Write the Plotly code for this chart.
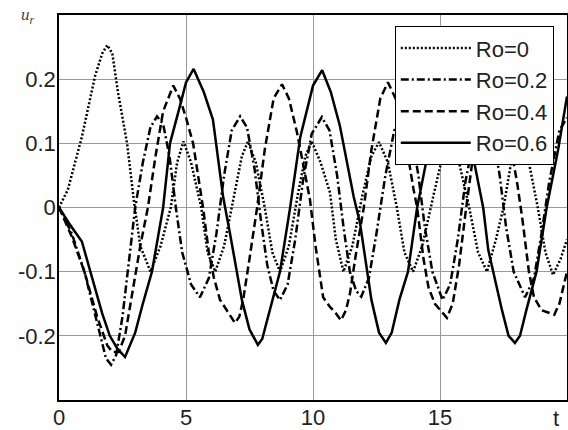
import plotly.graph_objects as go

# ---- data ----
t_ro0 = [0, 0.35, 0.9, 1.42, 1.7, 1.9, 2.1, 2.32, 2.68, 2.95, 3.2, 3.6, 4.0, 4.4, 4.65, 4.9, 5.2, 5.6, 5.85, 6.15,
         6.5, 6.9, 7.2, 7.44, 7.75, 8.1, 8.4, 8.7, 9.05, 9.4, 9.7, 9.95, 10.3, 10.67, 10.9, 11.2, 11.55, 11.95, 12.3,
         12.6, 12.95, 13.3, 13.6, 13.94, 14.3, 14.75, 15.1, 15.4, 15.75, 16.15, 16.5, 16.85, 17.2, 17.5, 17.8, 18.15,
         18.5, 18.85, 19.15, 19.45, 19.75, 20]
u_ro0 = [0, 0.028, 0.11, 0.205, 0.24, 0.253, 0.24, 0.18, 0.1, 0.01, -0.06, -0.1, -0.06, 0.0, 0.07, 0.103, 0.07, 0.0,
         -0.07, -0.1, -0.06, 0.02, 0.08, 0.103, 0.07, 0.0, -0.07, -0.1, -0.06, 0.02, 0.08, 0.103, 0.07, 0.023, -0.05,
         -0.1, -0.06, 0.02, 0.08, 0.102, 0.07, 0.0, -0.07, -0.1, -0.06, 0.02, 0.08, 0.102, 0.07, 0.0, -0.07, -0.1,
         -0.05, 0.0, 0.07, 0.102, 0.07, 0.0, -0.07, -0.105, -0.08, -0.05]

t_ro02 = [0, 0.5, 1.0, 1.5, 1.85, 2.05, 2.25, 2.5, 2.75, 3.0, 3.3, 3.6, 3.86, 4.1, 4.35, 4.6, 4.85, 5.2, 5.55, 5.9,
          6.2, 6.5, 6.8, 7.13, 7.4, 7.7, 7.95, 8.2, 8.45, 8.7, 9.0, 9.3, 9.6, 9.95, 10.35, 10.65, 10.95, 11.2, 11.45,
          11.7, 11.9, 12.2, 12.5, 12.85, 13.2, 13.55, 13.85, 14.15, 14.4, 14.7, 15.1, 15.4, 15.7, 16.0, 16.4, 16.75,
          17.05, 17.35, 17.6, 17.9, 18.35, 18.7, 19.0, 19.3, 19.7, 20]
u_ro02 = [0, -0.04, -0.1, -0.18, -0.235, -0.245, -0.23, -0.17, -0.08, 0.0, 0.07, 0.125, 0.142, 0.13, 0.08, 0.0, -0.07,
          -0.12, -0.14, -0.11, -0.04, 0.05, 0.12, 0.142, 0.125, 0.06, -0.02, -0.09, -0.13, -0.144, -0.12, -0.05, 0.04,
          0.115, 0.141, 0.12, 0.05, -0.03, -0.1, -0.13, -0.139, -0.11, -0.04, 0.05, 0.12, 0.142, 0.12, 0.05, -0.03,
          -0.1, -0.144, -0.12, -0.05, 0.04, 0.12, 0.142, 0.12, 0.05, -0.03, -0.1, -0.14, -0.11, -0.04, 0.04, 0.12, 0.14]

t_ro04 = [0, 0.5, 1.0, 1.5, 1.9, 2.1, 2.35, 2.6, 2.9, 3.2, 3.5, 3.8, 4.1, 4.5, 4.76, 5.0, 5.28, 5.67, 5.9, 6.1, 6.34,
          6.6, 6.93, 7.1, 7.25, 7.5, 7.8, 8.1, 8.45, 8.78, 9.05, 9.37, 9.76, 9.88, 10.1, 10.28, 10.4, 10.67, 10.9, 11.1,
          11.3, 11.46, 11.7, 12.0, 12.3, 12.65, 12.95, 13.25, 13.6, 13.95, 14.1, 14.35, 14.55, 14.8, 15.0, 15.27, 15.5,
          15.75, 16.0, 16.3, 16.7, 17.05, 17.35, 17.7, 18.05, 18.25, 18.5, 18.7, 19.0, 19.5, 19.7, 20]
u_ro04 = [0, -0.045, -0.1, -0.17, -0.215, -0.225, -0.225, -0.2, -0.13, -0.06, 0.0, 0.08, 0.15, 0.19, 0.17, 0.14, 0.1,
          0.0, -0.07, -0.11, -0.144, -0.16, -0.18, -0.17, -0.144, -0.08, 0.0, 0.09, 0.17, 0.192, 0.17, 0.117, 0.033,
          0.0125, -0.06, -0.107, -0.14, -0.155, -0.165, -0.176, -0.16, -0.133, -0.07, 0.0, 0.09, 0.17, 0.195, 0.17,
          0.115, 0.03, 0.0, -0.08, -0.125, -0.15, -0.16, -0.172, -0.15, -0.09, -0.01, 0.08, 0.17, 0.192, 0.17, 0.115,
          0.035, -0.02, -0.1, -0.14, -0.16, -0.167, -0.15, -0.1]

t_ro06 = [0, 0.4, 0.9, 1.3, 1.7, 2.0, 2.3, 2.6, 3.0, 3.3, 3.66, 4.1, 4.37, 4.76, 5.0, 5.3, 5.7, 6.06, 6.46, 6.73, 7.2,
          7.5, 7.83, 8.0, 8.3, 8.7, 9.1, 9.5, 10.0, 10.36, 10.7, 11.06, 11.6, 11.85, 12.3, 12.6, 12.87, 13.1, 13.4,
          13.74, 14.1, 14.5, 14.9, 15.4, 15.9, 16.3, 16.7, 16.9, 17.44, 17.7, 17.95, 18.15, 18.4, 18.8, 19.2, 19.65, 20]
u_ro06 = [0, -0.025, -0.053, -0.11, -0.165, -0.2, -0.22, -0.233, -0.195, -0.15, -0.1, 0.0, 0.1, 0.158, 0.195, 0.216,
          0.18, 0.137, 0.017, -0.04, -0.144, -0.19, -0.214, -0.205, -0.16, -0.1, 0.0, 0.11, 0.19, 0.214, 0.18, 0.127,
          0.017, -0.024, -0.144, -0.195, -0.211, -0.195, -0.144, -0.1, 0.0, 0.08, 0.17, 0.214, 0.17, 0.08, 0.0,
          -0.066, -0.16, -0.2, -0.211, -0.2, -0.16, -0.1, 0.0, 0.09, 0.173]

series_names = ["Ro=0", "Ro=0.2", "Ro=0.4", "Ro=0.6"]
x_tick_vals = [0, 5, 10, 15]
x_tick_text = ["0", "5", "10", "15"]
y_tick_vals = [-0.2, -0.1, 0, 0.1, 0.2]
y_tick_text = ["-0.2", "-0.1", "0", "0.1", "0.2"]

# ---- figure ----
fig = go.Figure()
styles = [
    dict(dash="2px,2px", width=2.5),
    dict(dash="8px,3px,2px,3px", width=2.5),
    dict(dash="8px,4px", width=2.5),
    dict(dash="solid", width=2.5),
]
for (tt, uu), name, st in zip([(t_ro0, u_ro0), (t_ro02, u_ro02), (t_ro04, u_ro04), (t_ro06, u_ro06)],
                              series_names, styles):
    fig.add_trace(go.Scatter(x=tt, y=uu, mode="lines", name=name,
                             line=dict(color="black", width=st["width"], dash=st["dash"])))

axis_font = dict(family="Liberation Sans, Arial, sans-serif", size=22, color="#222222")
fig.update_layout(
    width=568, height=430,
    margin=dict(l=59, r=1, t=15, b=30, autoexpand=False),
    paper_bgcolor="white", plot_bgcolor="white",
    showlegend=True,
    legend=dict(x=0.661, y=0.971, xanchor="left", yanchor="top",
                bgcolor="white", bordercolor="black", borderwidth=1,
                font=dict(family="Liberation Sans, Arial, sans-serif", size=22, color="#222222"),
                itemwidth=70, tracegroupgap=0),
    xaxis=dict(range=[0, 20], tickvals=x_tick_vals, ticktext=x_tick_text, showgrid=True,
               gridcolor="#9a9a9a", gridwidth=1, showline=True, linecolor="black", linewidth=1.5,
               mirror=True, ticks="", tickfont=axis_font, zeroline=False, automargin=False,
               ticklabelstandoff=-3),
    yaxis=dict(range=[-0.3, 0.3], tickvals=y_tick_vals, ticktext=y_tick_text, showgrid=True,
               gridcolor="#9a9a9a", gridwidth=1, showline=True, linecolor="black", linewidth=1.5,
               mirror=True, ticks="", tickfont=axis_font, zeroline=False, automargin=False,
               ticklabelstandoff=-3),
    annotations=[
        dict(text="<i>u<sub>r</sub></i>", xref="paper", yref="paper", x=-0.062, y=1.0,
             xanchor="center", yanchor="bottom", showarrow=False, yshift=-14,
             font=dict(family="Liberation Serif, Times New Roman, serif", size=17, color="#444444")),
        dict(text="t", xref="paper", yref="paper", x=0.978, y=0, xanchor="center", yanchor="top",
             showarrow=False, yshift=-4, font=axis_font),
    ],
)
fig.write_html("out.html", config={"displayModeBar": False},
               post_script="document.body.style.margin='0';document.body.style.padding='0';"
                           "document.body.style.overflow='hidden';")
